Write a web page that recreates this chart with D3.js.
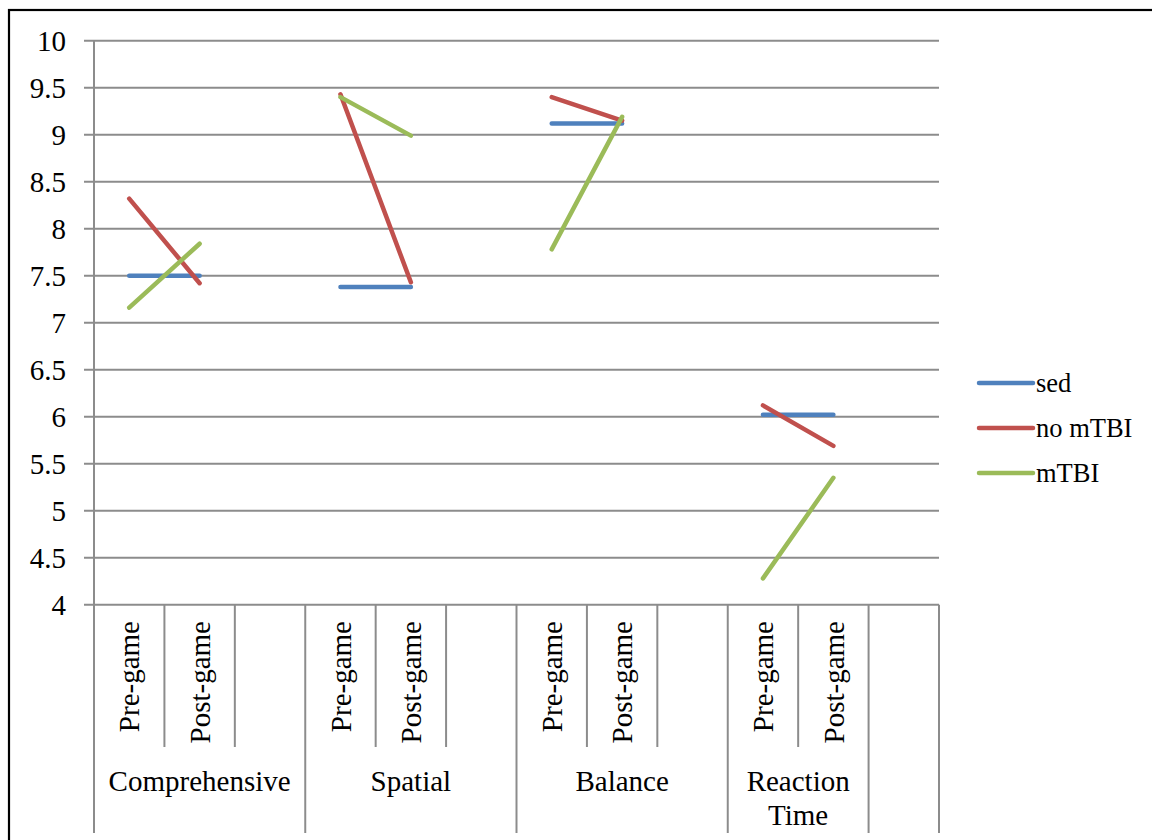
<!DOCTYPE html>
<html>
<head>
<meta charset="utf-8">
<script src="https://cdn.jsdelivr.net/npm/d3@7"></script>
<style>
  html, body { margin: 0; padding: 0; background: #fff; }
  svg { display: block; }
</style>
</head>
<body>
<svg id="chart" width="1152" height="840"></svg>
<script>
// ---- data ----
const groupNames = ["Comprehensive", "Spatial", "Balance", "Reaction Time", ""];
const groupSizes = [3, 3, 3, 2, 1];
const subLabels = ["Pre-game", "Post-game", "",
                   "Pre-game", "Post-game", "",
                   "Pre-game", "Post-game", "",
                   "Pre-game", "Post-game", ""];
const seriesNames = ["sed", "no mTBI", "mTBI"];
const sedValues    = [7.50, 7.50, null, 7.38, 7.38, null, 9.12, 9.12, null, 6.02, 6.02, null];
const noMTBIValues = [8.32, 7.42, null, 9.43, 7.43, null, 9.40, 9.15, null, 6.12, 5.69, null];
const mTBIValues   = [7.16, 7.84, null, 9.40, 8.99, null, 7.78, 9.19, null, 4.28, 5.35, null];
const yTicks = [4, 4.5, 5, 5.5, 6, 6.5, 7, 7.5, 8, 8.5, 9, 9.5, 10];
const colors = ["#4F81BD", "#C0504D", "#9BBB59"];

const allSeries = [sedValues, noMTBIValues, mTBIValues];

(function draw() {
  const FONT = "'Liberation Serif', 'Times New Roman', Tinos, 'DejaVu Serif', serif";
  const svg = d3.select("#chart").attr("font-family", FONT);
  const pLeft = 94, pRight = 939, pTop = 40.7, pBottom = 604.7;
  const innerDivBottom = 747, groupDivBottom = 833;
  const gridColor = "#8c8c8c";

  // outer border (only top and left visible)
  svg.append("rect").attr("x", 9).attr("y", 10).attr("width", 1160).attr("height", 850)
    .attr("fill", "none").attr("stroke", "#000").attr("stroke-width", 2.2);

  const idx = d3.range(subLabels.length);
  const x = d3.scaleBand().domain(idx).range([pLeft, pRight]).paddingInner(0).paddingOuter(0);
  const y = d3.scaleLinear().domain([4, 10]).range([pBottom, pTop]);
  const cx = i => x(i) + x.bandwidth() / 2;

  // gridlines
  svg.append("g").selectAll("line").data(yTicks).join("line")
    .attr("x1", pLeft - 10).attr("x2", pRight)
    .attr("y1", d => y(d)).attr("y2", d => y(d))
    .attr("stroke", gridColor).attr("stroke-width", 2);

  // y tick labels
  svg.append("g").selectAll("text").data(yTicks).join("text")
    .attr("x", 66).attr("y", d => y(d)).attr("dy", "0.36em")
    .attr("text-anchor", "end").attr("font-family", FONT).attr("font-size", 29).attr("fill", "#000")
    .text(d => d3.format("~g")(d));

  // vertical axis line
  svg.append("line").attr("x1", pLeft).attr("x2", pLeft).attr("y1", pTop).attr("y2", pBottom)
    .attr("stroke", gridColor).attr("stroke-width", 2);

  // category dividers
  const groupBounds = [0];
  groupSizes.forEach((s, i) => groupBounds.push(groupBounds[i] + s));
  const boundaries = d3.range(subLabels.length + 1);
  const bx = b => b === subLabels.length ? pRight : x(b);
  svg.append("g").selectAll("line").data(boundaries).join("line")
    .attr("x1", bx).attr("x2", bx)
    .attr("y1", pBottom)
    .attr("y2", b => groupBounds.includes(b) ? groupDivBottom : innerDivBottom)
    .attr("stroke", gridColor).attr("stroke-width", 2);

  // sub labels (rotated)
  svg.append("g").selectAll("text").data(idx.filter(i => subLabels[i])).join("text")
    .attr("transform", i => `translate(${cx(i)},621) rotate(-90)`)
    .attr("dy", "0.35em")
    .attr("text-anchor", "end").attr("font-family", FONT).attr("font-size", 29).attr("fill", "#000")
    .text(i => subLabels[i]);

  // group labels
  groupNames.forEach((name, gi) => {
    if (!name) return;
    const x0 = bx(groupBounds[gi]);
    const x1 = bx(groupBounds[gi + 1]);
    const mid = (x0 + x1) / 2;
    const words = name.split(" ");
    let lines = [name];
    if (x1 - x0 < 180 && words.length > 1) lines = words;
    const t = svg.append("text").attr("text-anchor", "middle")
      .attr("font-family", FONT).attr("font-size", 29).attr("fill", "#000");
    lines.forEach((ln, li) => {
      t.append("tspan").attr("x", mid).attr("y", 791 + li * 34).text(ln);
    });
  });

  // series lines
  const line = d3.line().defined(d => d != null).x((d, i) => cx(i)).y(d => y(d));
  allSeries.forEach((vals, si) => {
    svg.append("path").datum(vals).attr("d", line)
      .attr("fill", "none").attr("stroke", colors[si]).attr("stroke-width", 4.5)
      .attr("stroke-linecap", "round").attr("stroke-linejoin", "round");
  });

  // legend
  const legY = [383, 428, 473];
  seriesNames.forEach((n, i) => {
    svg.append("line").attr("x1", 979).attr("x2", 1033).attr("y1", legY[i]).attr("y2", legY[i])
      .attr("stroke", colors[i]).attr("stroke-width", 4.5).attr("stroke-linecap", "round");
    svg.append("text").attr("x", 1036).attr("y", legY[i]).attr("dy", "0.33em")
      .attr("font-family", FONT).attr("font-size", 26.5).attr("fill", "#000").text(n);
  });
})();
</script>
</body>
</html>
